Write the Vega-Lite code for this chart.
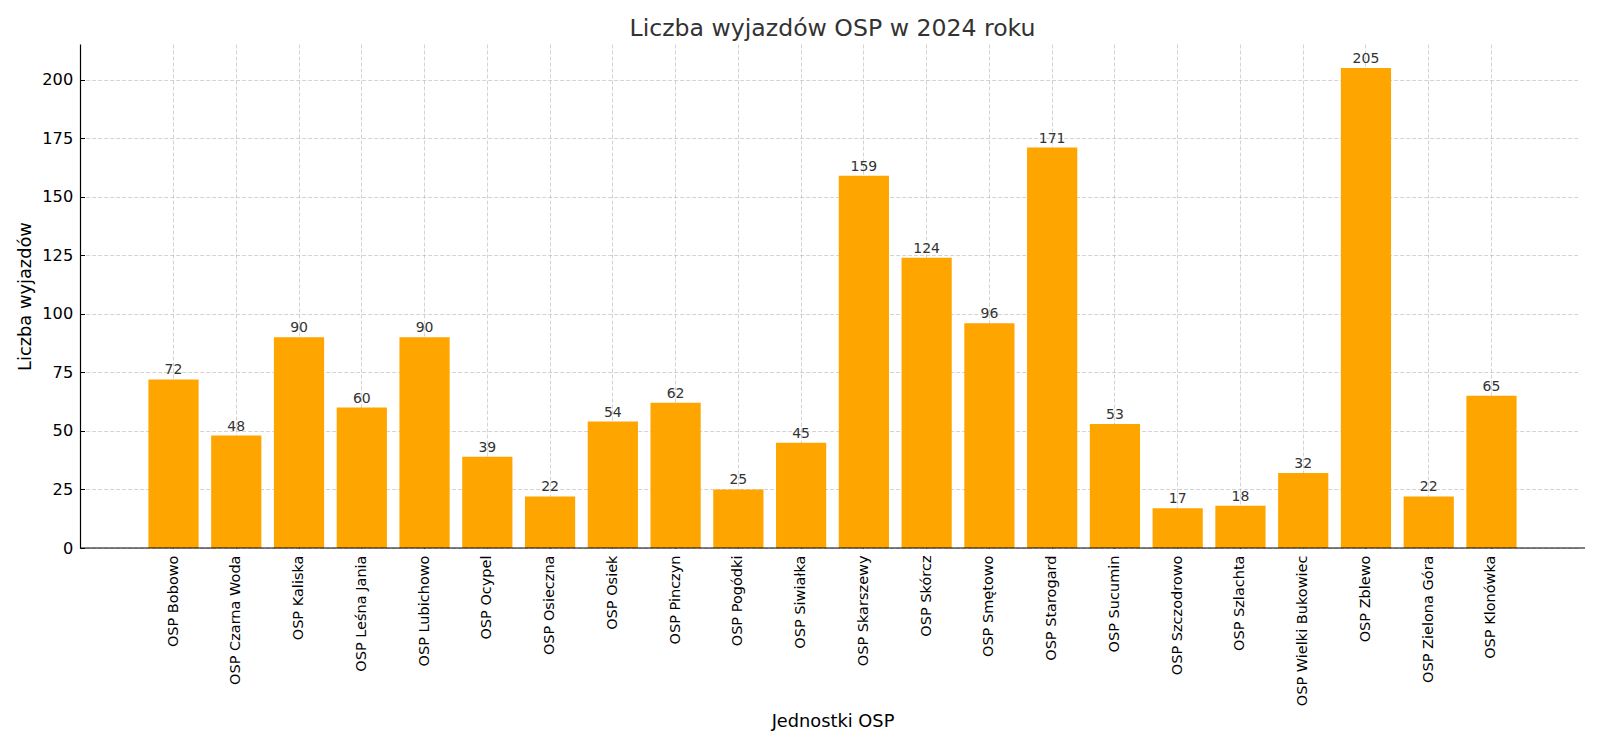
{
  "$schema": "https://vega.github.io/schema/vega-lite/v6.json",
  "autosize": {"type": "none"},
  "width": 1505,
  "height": 504,
  "padding": {"left": 80, "top": 44, "right": 15, "bottom": 198},
  "background": "white",
  "title": {
    "text": "Liczba wyjazdów OSP w 2024 roku",
    "fontSize": 23.6,
    "fontWeight": "normal",
    "font": "DejaVu Sans",
    "color": "#333333",
    "offset": 3
  },
  "data": {
    "values": [
      {"unit": "OSP Bobowo", "count": 72},
      {"unit": "OSP Czarna Woda", "count": 48},
      {"unit": "OSP Kaliska", "count": 90},
      {"unit": "OSP Leśna Jania", "count": 60},
      {"unit": "OSP Lubichowo", "count": 90},
      {"unit": "OSP Ocypel", "count": 39},
      {"unit": "OSP Osieczna", "count": 22},
      {"unit": "OSP Osiek", "count": 54},
      {"unit": "OSP Pinczyn", "count": 62},
      {"unit": "OSP Pogódki", "count": 25},
      {"unit": "OSP Siwiałka", "count": 45},
      {"unit": "OSP Skarszewy", "count": 159},
      {"unit": "OSP Skórcz", "count": 124},
      {"unit": "OSP Smętowo", "count": 96},
      {"unit": "OSP Starogard", "count": 171},
      {"unit": "OSP Sucumin", "count": 53},
      {"unit": "OSP Szczodrowo", "count": 17},
      {"unit": "OSP Szlachta", "count": 18},
      {"unit": "OSP Wielki Bukowiec", "count": 32},
      {"unit": "OSP Zblewo", "count": 205},
      {"unit": "OSP Zielona Góra", "count": 22},
      {"unit": "OSP Klonówka", "count": 65}
    ]
  },
  "layer": [
    {
      "encoding": {
        "x": {
          "field": "unit",
          "type": "nominal",
          "sort": null,
          "scale": {"paddingInner": 0.2, "paddingOuter": 1, "range": [5.65, 1499.35]},
          "axis": {
            "title": "Jednostki OSP",
            "domain": false,
            "labelAngle": -90,
            "labelAlign": "right",
            "labelBaseline": "middle",
            "labelFontSize": 14.5,
            "labelPadding": 11.5,
            "tickSize": -4.5,
            "titlePadding": 7,
            "grid": true
          }
        },
        "y": {
          "field": "count",
          "type": "quantitative",
          "scale": {"domain": [0, 215.25], "nice": false},
          "axis": {
            "title": "Liczba wyjazdów",
            "values": [0, 25, 50, 75, 100, 125, 150, 175, 200],
            "labelFontSize": 16.2,
            "labelPadding": 11.8,
            "tickSize": -4.5,
            "titlePadding": 7.5,
            "grid": true
          }
        }
      },
      "layer": [
        {"mark": {"type": "bar", "color": "#FFA500"}},
        {
          "mark": {
            "type": "text",
            "baseline": "bottom",
            "dy": -2,
            "fontSize": 14,
            "font": "DejaVu Sans",
            "color": "#333333"
          },
          "encoding": {"text": {"field": "count", "type": "quantitative"}}
        }
      ]
    },
    {
      "data": {"values": [{"base": 0}]},
      "mark": {"type": "rule", "color": "#000000", "strokeWidth": 1.2},
      "encoding": {"y": {"datum": 0, "type": "quantitative"}}
    }
  ],
  "config": {
    "view": {"stroke": null},
    "font": "DejaVu Sans",
    "axis": {
      "zindex": 1,
      "domainColor": "#000000",
      "domainWidth": 1.2,
      "tickColor": "#000000",
      "labelColor": "#000000",
      "labelFont": "DejaVu Sans",
      "titleFont": "DejaVu Sans",
      "titleFontSize": 17.8,
      "titleFontWeight": "normal",
      "titleColor": "#000000",
      "gridColor": "#b0b0b0",
      "gridOpacity": 0.7,
      "gridDash": [4, 2],
      "gridWidth": 0.8
    }
  }
}
